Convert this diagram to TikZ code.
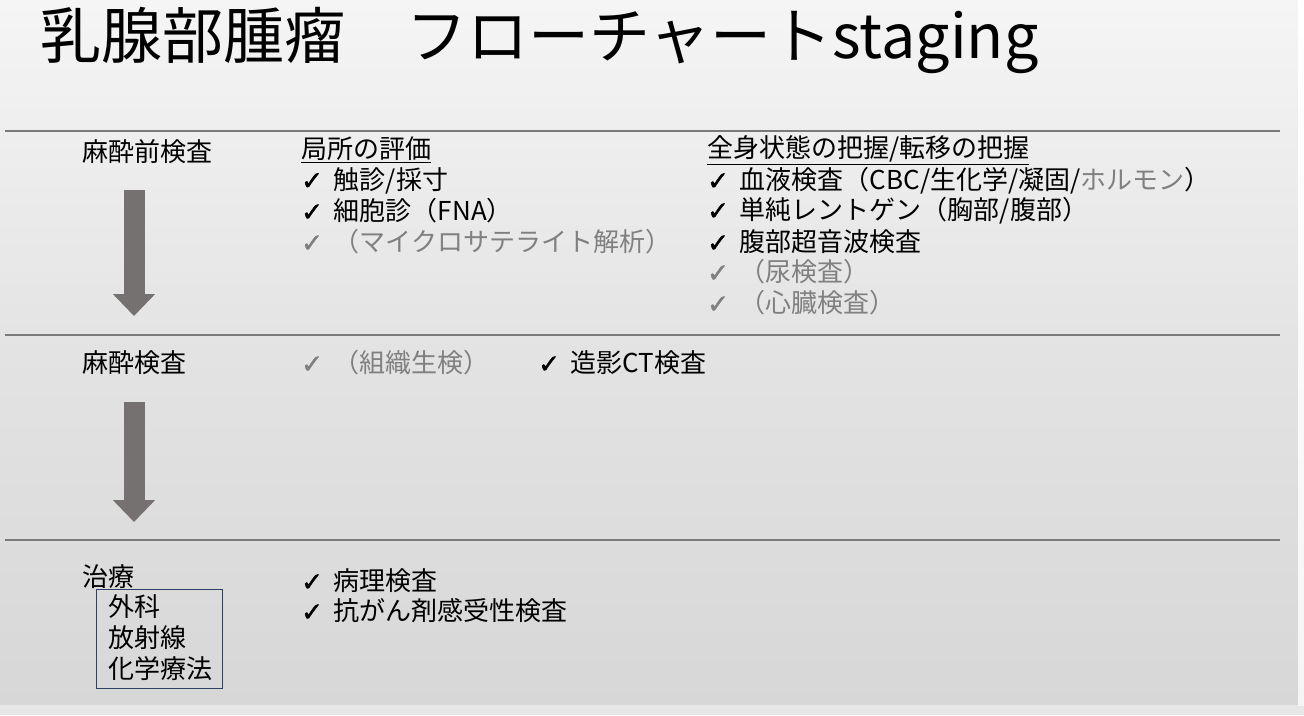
\documentclass[tikz,border=0pt]{standalone}
\usepackage{fontspec}
\setmainfont{Noto Sans CJK JP}
\newfontfamily\symfont[FakeBold=1.6]{DejaVu Sans}
\usetikzlibrary{arrows.meta}
\definecolor{bgtop}{HTML}{F5F5F5}
\definecolor{bgmid}{HTML}{E3E3E3}
\definecolor{bgbot}{HTML}{D7D7D7}
\definecolor{arrowcol}{HTML}{767171}
\definecolor{linecol}{HTML}{7A7A7A}
\definecolor{boxcol}{HTML}{2F3F66}
\definecolor{dimtext}{HTML}{808080}
\newcommand\ck{{\symfont ✓}\hspace{0.42em}}
\tikzset{
  txt/.style={anchor=west, inner sep=0pt, font=\fontsize{26}{31}\selectfont},
  dim/.style={txt, text=dimtext},
  sepline/.style={draw=linecol, line width=1.6pt},
  bigarrow/.style={draw=arrowcol, line width=21pt, -{Triangle[width=41pt,length=22pt]}},
  trbox/.style={draw=boxcol, line width=1.2pt, inner sep=0pt, anchor=north west, minimum width=126pt, minimum height=99pt}
}
\begin{document}
\begin{tikzpicture}[x=1pt,y=-1pt]
\useasboundingbox (0,0) rectangle (1304,715);
\shade[top color=bgtop, bottom color=bgbot, middle color=bgmid] (0,0) rectangle (1298,705);
\fill[bgbot!60!white] (0,705) rectangle (1304,715);
\shade[top color=white, bottom color=bgtop] (1298,0) rectangle (1304,705);

% title
\node[anchor=west, inner sep=0pt, font=\fontsize{61}{70}\selectfont] (title) at (40,40) {乳腺部腫瘤　フローチャートstaging};

% separators
\coordinate (l1a) at (5,131); \coordinate (l1b) at (1280,131);
\coordinate (l2a) at (5,335); \coordinate (l2b) at (1280,335);
\coordinate (l3a) at (5,540); \coordinate (l3b) at (1280,540);
\draw[sepline] (l1a) -- (l1b);
\draw[sepline] (l2a) -- (l2b);
\draw[sepline] (l3a) -- (l3b);

% section 1
\node[txt] (pre) at (82,152) {麻酔前検査};
\node[txt] (loc) at (301,150) {\underline{局所の評価}};
\node[txt] (loc1) at (301,181) {\ck 触診/採寸};
\node[txt] (loc2) at (301,211) {\ck 細胞診（FNA）};
\node[dim] (loc3) at (301,242) {\ck （マイクロサテライト解析）};
\node[txt] (sys) at (707,150) {\underline{全身状態の把握/転移の把握}};
\node[txt] (sys1) at (707,181) {\ck 血液検査（CBC/生化学/凝固/{\color{dimtext}ホルモン}）};
\node[txt] (sys2) at (707,211) {\ck 単純レントゲン（胸部/腹部）};
\node[txt] (sys3) at (707,242) {\ck 腹部超音波検査};
\node[dim] (sys4) at (707,272) {\ck （尿検査）};
\node[dim] (sys5) at (707,303) {\ck （心臓検査）};

\coordinate (a1top) at (134,190);
\coordinate (a1tip) at (134,316);
\draw[bigarrow] (a1top) -- (a1tip);

% section 2
\node[txt] (ana) at (82,363) {麻酔検査};
\node[dim] (bio) at (301,363) {\ck （組織生検）};
\node[txt] (ct) at (538,363) {\ck 造影CT検査};

\coordinate (a2top) at (134,402);
\coordinate (a2tip) at (134,522);
\draw[bigarrow] (a2top) -- (a2tip);

% section 3
\node[txt] (tx) at (82,577) {治療};
\node[trbox] (box) at (96,589) {};
\node[txt] (surg) at (108,607) {外科};
\node[txt] (rad) at (108,638) {放射線};
\node[txt] (chem) at (108,669) {化学療法};
\node[txt] (path1) at (301,581) {\ck 病理検査};
\node[txt] (path2) at (301,611) {\ck 抗がん剤感受性検査};
\end{tikzpicture}
\end{document}
